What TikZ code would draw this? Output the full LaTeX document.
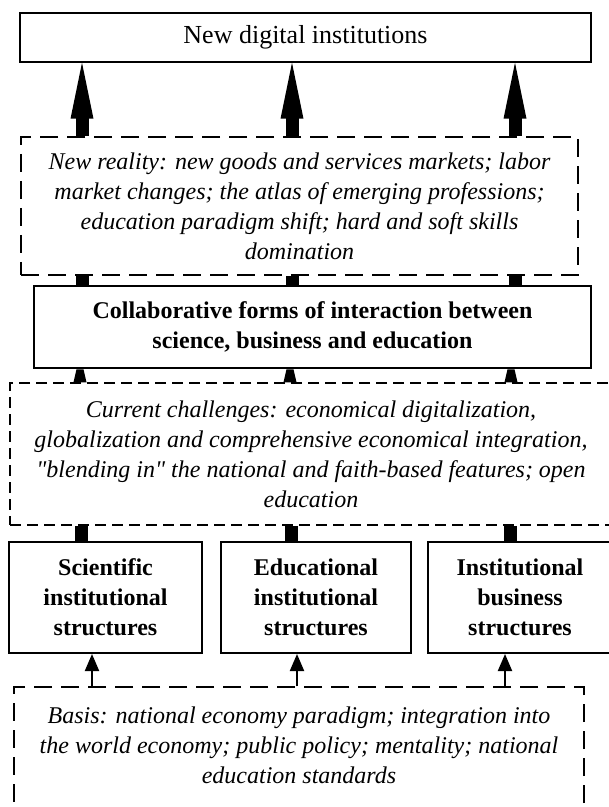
\documentclass[tikz,border=0pt]{standalone}
\usepackage{fontspec}
\setmainfont{Liberation Serif}[Ligatures=TeXOff]
\usetikzlibrary{arrows.meta,calc}

\tikzset{
  txt/.style={font=\fontsize{12}{15}\selectfont, align=center},
  solidbox/.style={draw, fill=white, line width=0.75pt, inner sep=0pt, align=center, font=\fontsize{13}{15}\selectfont},
  strongbox/.style={draw, fill=white, line width=1.3pt, inner sep=0pt, align=center, font=\fontsize{12}{15}\selectfont\bfseries},
  longdash/.style={draw, line width=0.75pt, dash pattern=on 9pt off 4.5pt, inner sep=0pt, align=center, font=\fontsize{12}{15}\selectfont\itshape},
  shortdash/.style={draw, line width=0.75pt, dash pattern=on 5.5pt off 3pt, inner sep=0pt, align=center, font=\fontsize{12}{15}\selectfont\itshape},
  shaft/.style={line width=6.5pt},
  thinarrow/.style={line width=1pt, -{Triangle[length=8.5pt,width=7pt]}},
}

\begin{document}
\begin{tikzpicture}[x=0.5pt, y=-0.5pt]
\useasboundingbox (0,0) rectangle (609,807);
\clip (0,0) rectangle (609,807);

% boxes, top to bottom
\node[solidbox, minimum width=285.5pt, minimum height=24.5pt] (top) at (305.5,37.5) {New digital institutions};
\node[longdash, minimum width=278.5pt, minimum height=69pt] (nr) at (299.5,206)
  {New reality: new goods and services markets; labor\\
   market changes; the atlas of emerging professions;\\
   education paradigm shift; hard and soft skills\\
   domination};
\node[strongbox, minimum width=278.5pt, minimum height=41pt] (bold) at (312.5,327)
  {Collaborative forms of interaction between\\
   science, business and education};
\node[shortdash, minimum width=301pt, minimum height=71pt] (cc) at (311,454)
  {Current challenges: economical digitalization,\\
   globalization and comprehensive economical integration,\\
   "blending in" the national and faith-based features; open\\
   education};
\node[strongbox, line width=1pt, minimum width=96.5pt, minimum height=55.5pt] (sci) at (105.5,597.5)
  {Scientific\\ institutional\\ structures};
\node[strongbox, line width=1pt, minimum width=95pt, minimum height=55.5pt] (edu) at (316,597.5)
  {Educational\\ institutional\\ structures};
\node[strongbox, line width=1pt, minimum width=92pt, minimum height=55.5pt] (inst) at (520,597.5)
  {Institutional\\ business\\ structures};
\node[longdash, minimum width=285pt, minimum height=70pt] (basis) at (299,757) {};
\node[txt, font=\fontsize{12}{15}\selectfont\itshape, inner sep=0pt] (basistext) at (299,745)
  {Basis: national economy paradigm; integration into\\
   the world economy; public policy; mentality; national\\
   education standards};

% column positions of the connectors
\coordinate (a1) at (82,0);  \coordinate (a2) at (292,0); \coordinate (a3) at (515,0);
\coordinate (c1) at (80,0);  \coordinate (c2) at (290,0); \coordinate (c3) at (511,0);
\coordinate (d1) at (81,0);  \coordinate (d2) at (291,0); \coordinate (d3) at (510,0);
\coordinate (e1) at (92,0);  \coordinate (e2) at (297,0); \coordinate (e3) at (505,0);

% wide arrows: new reality -> new digital institutions
\foreach \i in {1,2,3} {
  \draw[shaft] (a\i |- nr.north) -- ($(a\i |- top.south)+(0,52)$);
  \fill (a\i |- top.south) -- +(11.5,56) -- +(-11.5,56) -- cycle;
  % bars: new reality -> collaborative forms
  \draw[shaft] (a\i |- nr.south) -- (a\i |- bold.north);
  % short heads: current challenges -> collaborative forms
  \fill ($(c\i |- cc.north)+(-6.5,0)$) -- ($(c\i |- bold.south)+(-3.5,0)$)
     -- ($(c\i |- bold.south)+(3.5,0)$) -- ($(c\i |- cc.north)+(6.5,0)$) -- cycle;
}

% bars: current challenges -> the three structures
\draw[shaft] (d1 |- cc.south) -- (d1 |- sci.north);
\draw[shaft] (d2 |- cc.south) -- (d2 |- edu.north);
\draw[shaft] (d3 |- cc.south) -- (d3 |- inst.north);

% thin arrows: basis -> the three structures
\draw[thinarrow] (e1 |- basis.north) -- (e1 |- sci.south);
\draw[thinarrow] (e2 |- basis.north) -- (e2 |- edu.south);
\draw[thinarrow] (e3 |- basis.north) -- (e3 |- inst.south);
\end{tikzpicture}
\end{document}
